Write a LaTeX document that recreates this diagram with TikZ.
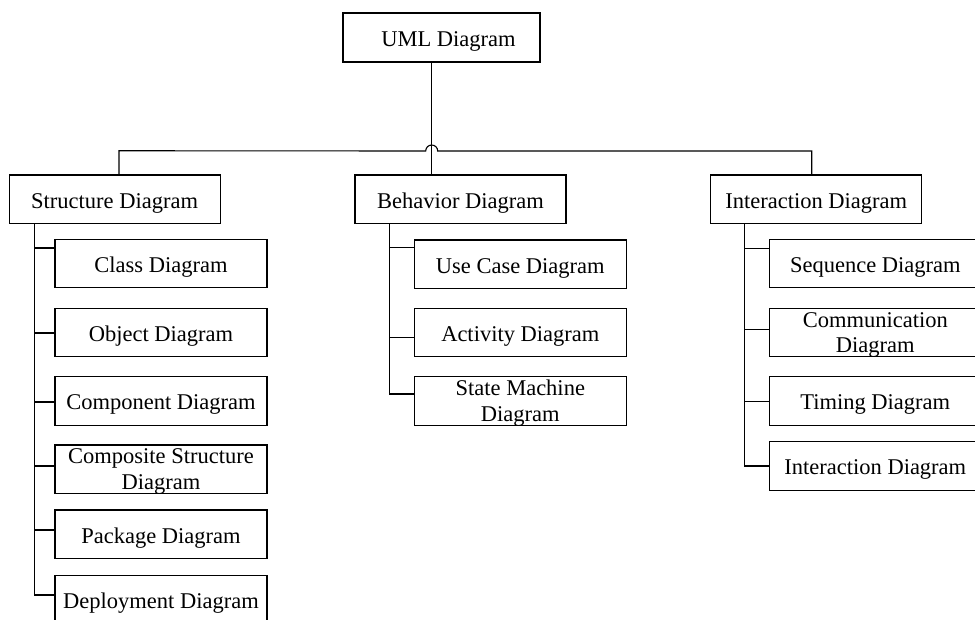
\documentclass[tikz,border=0pt]{standalone}
\usepackage{fontspec}
\setmainfont{Liberation Serif}
\begin{document}
\begin{tikzpicture}[x=1pt,y=-1pt,
  box/.style={draw, line width=1.1pt, inner sep=0pt, outer sep=0pt, minimum height=48.5pt, align=center, text height=18pt, text depth=0pt, font=\fontsize{22.5}{25.5}\selectfont},
  twoline/.style={text height=, text depth=-1pt},
  topbox/.style={box, minimum width=211pt},
  kid/.style={box, minimum width=212pt},
  conn/.style={line width=1.1pt}]
\useasboundingbox (0,0) rectangle (975,619);
\clip (0,0) rectangle (975,619);
% top level
\node[box, minimum width=197pt, minimum height=49pt] (uml) at (441.5,37.5) {\hspace*{14pt}UML Diagram};
\node[topbox] (str) at (114.6,199.2) {Structure Diagram};
\node[topbox] (beh) at (460.5,199.2) {Behavior Diagram};
\node[topbox] (int) at (816.2,199.2) {Interaction Diagram};
% structure children
\node[kid] (s1) at (161,263.5) {Class Diagram};
\node[kid] (s2) at (161,332.5) {Object Diagram};
\node[kid] (s3) at (161,400.9) {Component Diagram};
\node[kid, twoline] (s4) at (161,469.2) {Composite Structure\\Diagram};
\node[kid] (s5) at (161,534.2) {Package Diagram};
\node[kid] (s6) at (161,599.9) {Deployment Diagram};
% behavior children
\node[kid] (b1) at (520.3,264.2) {Use Case Diagram};
\node[kid] (b2) at (520.3,332.5) {Activity Diagram};
\node[kid, twoline] (b3) at (520.3,400.9) {State Machine\\Diagram};
% interaction children
\node[kid] (i1) at (875.3,263.5) {Sequence Diagram};
\node[kid, twoline] (i2) at (875.3,332.5) {Communication\\Diagram};
\node[kid] (i3) at (875.3,400.9) {Timing Diagram};
\node[kid] (i4) at (875.3,465.9) {Interaction Diagram};
% top connectors
\draw[conn] ([xshift=-9.8pt]uml.south) -- ([xshift=-28.8pt]beh.north);
\draw[conn] ([xshift=4.4pt]str.north) -- ++(0,-24.2) -- (425.7,151)
  arc[start angle=180, end angle=0, radius=6pt] -- (811.7,151) -- ([xshift=-4.5pt]int.north);
% structure column
\draw[conn] ([xshift=-80.1pt]str.south) |- ([yshift=-19.3pt]s6.north west);
\draw[conn] ([yshift=-8.7pt]s1.north west) -- +(-20.5,0);
\draw[conn] ([yshift=-24.7pt]s2.north west) -- +(-20.5,0);
\draw[conn] ([yshift=-25.3pt]s3.north west) -- +(-20.5,0);
\draw[conn] ([yshift=-21pt]s4.north west) -- +(-20.5,0);
\draw[conn] ([yshift=-20pt]s5.north west) -- +(-20.5,0);
% behavior column
\draw[conn] ([xshift=-71.2pt]beh.south) |- ([yshift=-17.3pt]b3.north west);
\draw[conn] ([yshift=-7.7pt]b1.north west) -- +(-25,0);
\draw[conn] ([yshift=-29.4pt]b2.north west) -- +(-25,0);
% interaction column
\draw[conn] ([xshift=-71.9pt]int.south) |- ([yshift=-24.3pt]i4.north west);
\draw[conn] ([yshift=-9pt]i1.north west) -- +(-25,0);
\draw[conn] ([yshift=-21pt]i2.north west) -- +(-25,0);
\draw[conn] ([yshift=-25pt]i3.north west) -- +(-25,0);
\end{tikzpicture}
\end{document}
